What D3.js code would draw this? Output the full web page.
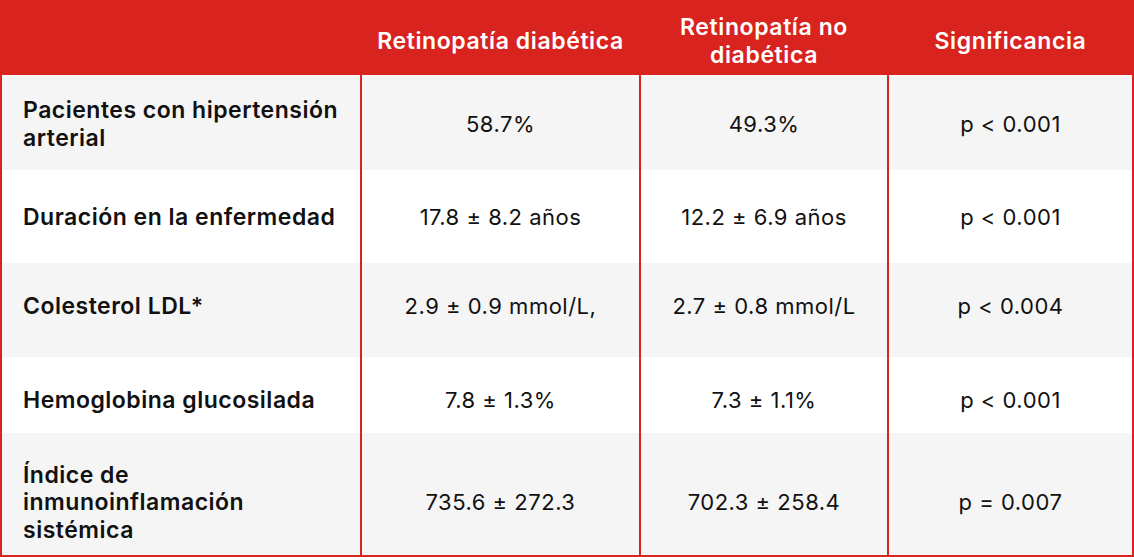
<!DOCTYPE html>
<html><head><meta charset="utf-8">
<script src="https://cdn.jsdelivr.net/npm/d3@7"></script>
<style>
html,body{margin:0;padding:0;background:#fff;}
svg{display:block;}
</style></head>
<body>
<script>
// ---- data ----
const headers = [[""], ["Retinopatía diabética"], ["Retinopatía no", "diabética"], ["Significancia"]];
const rowLabels = [
  ["Pacientes con hipertensión", "arterial"],
  ["Duración en la enfermedad"],
  ["Colesterol LDL*"],
  ["Hemoglobina glucosilada"],
  ["Índice de", "inmunoinflamación", "sistémica"]
];
const diabetica = ["58.7%", "17.8 ± 8.2 años", "2.9 ± 0.9 mmol/L,", "7.8 ± 1.3%", "735.6 ± 272.3"];
const noDiabetica = ["49.3%", "12.2 ± 6.9 años", "2.7 ± 0.8 mmol/L", "7.3 ± 1.1%", "702.3 ± 258.4"];
const significancia = ["p < 0.001", "p < 0.001", "p < 0.004", "p < 0.001", "p = 0.007"];

// ---- layout ----
const W = 1134, H = 560;
const colEdges = [0, 361, 640, 888, 1133];
const headerH = 75;
const rowHeights = [95, 93, 94, 76, 123];
const textCenters = [124, 217, 306, 400, 502];
const RED = "#d8231f";
const FONT = "Inter, 'Open Sans', sans-serif";

const svg = d3.select("body").append("svg").attr("width", W).attr("height", H);

const rowTops = [headerH];
rowHeights.forEach((h, i) => rowTops.push(rowTops[i] + h));

const x = d3.scaleOrdinal().domain([0,1,2,3]).range(colEdges.slice(0,4));
const colW = i => colEdges[i+1] - colEdges[i];

// header
svg.append("rect").attr("x", 0).attr("y", 0).attr("width", colEdges[4]+1).attr("height", headerH).attr("fill", RED);

const lineH = 27.7;
function lines(g, arr, cx, cy, anchor, attrs) {
  const n = arr.length;
  arr.forEach((t, k) => {
    const tx = g.append("text")
      .attr("x", cx)
      .attr("y", cy + (k - (n-1)/2) * lineH)
      .attr("dy", "0.36em")
      .attr("text-anchor", anchor)
      .text(t);
    Object.entries(attrs).forEach(([a, v]) => tx.attr(a, v));
  });
}

headers.forEach((h, i) => {
  if (!h[0]) return;
  lines(svg, h, x(i) + colW(i)/2, headerH/2 + 3, "middle",
    {"fill": "#fff", "font-family": FONT, "font-weight": 600, "font-size": "23px", "letter-spacing": "0.6px"});
});

// body rows
const rows = rowLabels.map((lab, i) => ({lab, vals: [diabetica[i], noDiabetica[i], significancia[i]], i}));

const rg = svg.selectAll("g.row").data(rows).join("g").attr("class", "row");
rg.append("rect")
  .attr("x", 2).attr("y", d => rowTops[d.i])
  .attr("width", colEdges[4] - 2)
  .attr("height", d => rowHeights[d.i])
  .attr("fill", d => d.i % 2 === 0 ? "#f5f5f5" : "#ffffff");

rg.each(function(d) {
  const g = d3.select(this);
  const cy = textCenters[d.i];
  lines(g, d.lab, 23, cy, "start",
    {"fill": "#111", "font-family": FONT, "font-weight": 600, "font-size": "23px", "letter-spacing": "0.5px"});
  d.vals.forEach((v, j) => {
    lines(g, [v], x(j+1) + colW(j+1)/2, cy, "middle",
      {"fill": "#111", "font-family": FONT, "font-weight": 400, "font-size": "22px", "letter-spacing": "0.5px"});
  });
});

// grid lines (vertical column separators and outer border)
const bodyBottom = rowTops[rowTops.length-1];
[colEdges[1], colEdges[2], colEdges[3]].forEach(cx => {
  svg.append("line").attr("x1", cx).attr("x2", cx).attr("y1", 0).attr("y2", bodyBottom)
    .attr("stroke", RED).attr("stroke-width", 2);
});
svg.append("rect").attr("x", 1).attr("y", 1).attr("width", colEdges[4] - 1).attr("height", bodyBottom - 1)
  .attr("fill", "none").attr("stroke", RED).attr("stroke-width", 2);
</script>
</body></html>
